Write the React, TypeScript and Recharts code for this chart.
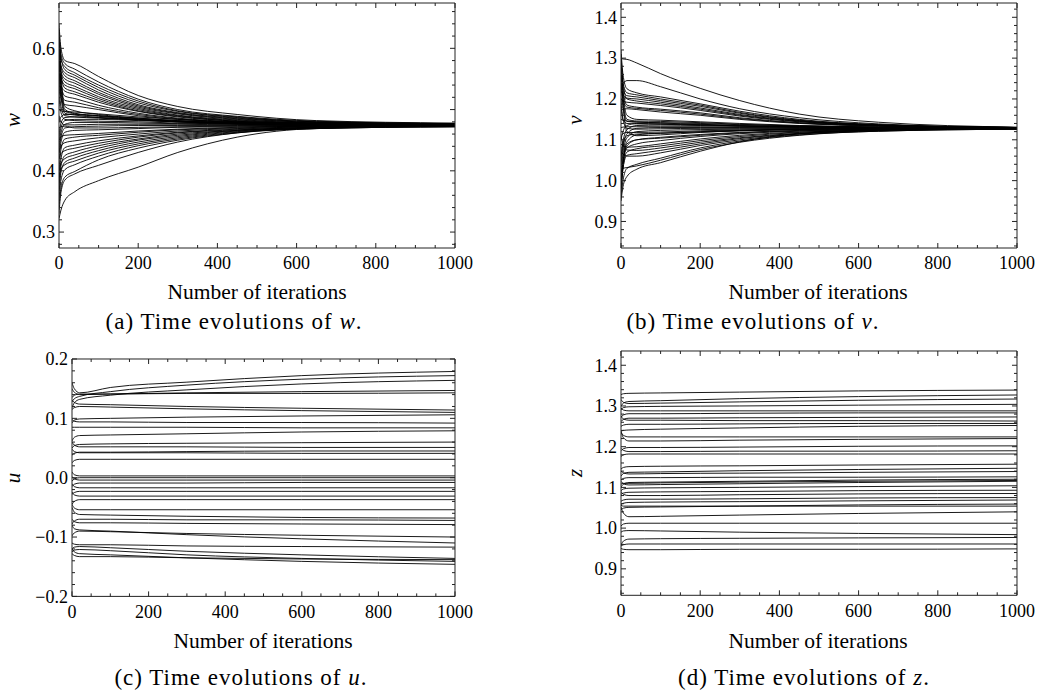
import React from 'react'
import { LineChart, Line, XAxis, YAxis } from 'recharts'

const XS_TOP = [0, 5, 15, 40, 100, 200, 300, 450, 650, 1000]
const XS_BOTTOM = [0, 6, 20, 100, 300, 600, 1000]

const W_CURVES = [
  [0.640, 0.600, 0.580, 0.575, 0.554, 0.523, 0.505, 0.492, 0.482, 0.478],
  [0.620, 0.590, 0.575, 0.566, 0.545, 0.517, 0.500, 0.489, 0.481, 0.477],
  [0.600, 0.582, 0.570, 0.560, 0.540, 0.514, 0.498, 0.488, 0.480, 0.477],
  [0.630, 0.585, 0.565, 0.556, 0.536, 0.511, 0.497, 0.487, 0.480, 0.477],
  [0.590, 0.572, 0.560, 0.552, 0.532, 0.508, 0.495, 0.486, 0.479, 0.476],
  [0.610, 0.570, 0.555, 0.547, 0.528, 0.506, 0.494, 0.485, 0.479, 0.476],
  [0.580, 0.562, 0.550, 0.543, 0.525, 0.504, 0.493, 0.484, 0.478, 0.476],
  [0.600, 0.560, 0.545, 0.538, 0.521, 0.502, 0.491, 0.483, 0.478, 0.476],
  [0.570, 0.552, 0.540, 0.534, 0.518, 0.500, 0.490, 0.482, 0.478, 0.476],
  [0.620, 0.555, 0.535, 0.529, 0.515, 0.498, 0.489, 0.481, 0.477, 0.476],
  [0.560, 0.540, 0.530, 0.525, 0.512, 0.497, 0.488, 0.481, 0.477, 0.476],
  [0.600, 0.540, 0.522, 0.518, 0.507, 0.494, 0.486, 0.480, 0.477, 0.476],
  [0.580, 0.530, 0.515, 0.512, 0.503, 0.492, 0.485, 0.479, 0.477, 0.475],
  [0.550, 0.520, 0.508, 0.506, 0.500, 0.490, 0.484, 0.479, 0.476, 0.475],
  [0.630, 0.560, 0.505, 0.498, 0.492, 0.486, 0.482, 0.478, 0.476, 0.475],
  [0.610, 0.545, 0.500, 0.494, 0.490, 0.485, 0.481, 0.478, 0.476, 0.475],
  [0.590, 0.530, 0.497, 0.493, 0.489, 0.484, 0.480, 0.477, 0.476, 0.475],
  [0.570, 0.520, 0.494, 0.491, 0.487, 0.483, 0.480, 0.477, 0.476, 0.475],
  [0.500, 0.498, 0.497, 0.496, 0.493, 0.488, 0.484, 0.480, 0.477, 0.475],
  [0.480, 0.488, 0.492, 0.492, 0.490, 0.486, 0.482, 0.479, 0.477, 0.475],
  [0.460, 0.478, 0.487, 0.488, 0.487, 0.484, 0.481, 0.478, 0.476, 0.475],
  [0.450, 0.470, 0.482, 0.484, 0.484, 0.482, 0.480, 0.477, 0.476, 0.475],
  [0.520, 0.495, 0.484, 0.482, 0.481, 0.480, 0.478, 0.476, 0.475, 0.475],
  [0.440, 0.462, 0.476, 0.479, 0.479, 0.478, 0.477, 0.476, 0.475, 0.475],
  [0.490, 0.480, 0.475, 0.475, 0.476, 0.476, 0.476, 0.475, 0.475, 0.474],
  [0.430, 0.455, 0.470, 0.472, 0.473, 0.474, 0.474, 0.474, 0.474, 0.474],
  [0.470, 0.472, 0.473, 0.470, 0.470, 0.471, 0.472, 0.473, 0.474, 0.474],
  [0.420, 0.447, 0.463, 0.466, 0.467, 0.469, 0.471, 0.472, 0.473, 0.474],
  [0.540, 0.505, 0.490, 0.488, 0.486, 0.483, 0.480, 0.477, 0.476, 0.475],
  [0.450, 0.455, 0.458, 0.459, 0.461, 0.465, 0.468, 0.471, 0.473, 0.474],
  [0.400, 0.435, 0.452, 0.455, 0.458, 0.463, 0.467, 0.470, 0.473, 0.474],
  [0.430, 0.440, 0.446, 0.449, 0.454, 0.460, 0.465, 0.469, 0.472, 0.474],
  [0.380, 0.420, 0.438, 0.442, 0.449, 0.457, 0.463, 0.468, 0.472, 0.473],
  [0.420, 0.428, 0.433, 0.437, 0.445, 0.455, 0.462, 0.467, 0.471, 0.473],
  [0.370, 0.408, 0.425, 0.431, 0.441, 0.452, 0.460, 0.466, 0.471, 0.473],
  [0.400, 0.412, 0.420, 0.426, 0.437, 0.450, 0.458, 0.466, 0.471, 0.473],
  [0.360, 0.398, 0.414, 0.421, 0.433, 0.447, 0.456, 0.465, 0.470, 0.473],
  [0.390, 0.403, 0.410, 0.416, 0.429, 0.444, 0.454, 0.464, 0.470, 0.473],
  [0.350, 0.385, 0.402, 0.410, 0.424, 0.441, 0.452, 0.463, 0.469, 0.472],
  [0.340, 0.372, 0.390, 0.399, 0.418, 0.437, 0.450, 0.462, 0.469, 0.472],
  [0.330, 0.365, 0.385, 0.395, 0.409, 0.430, 0.447, 0.462, 0.470, 0.473],
  [0.322, 0.336, 0.352, 0.366, 0.384, 0.406, 0.430, 0.455, 0.469, 0.472],
]

const V_CURVES = [
  [1.300, 1.298, 1.297, 1.288, 1.262, 1.226, 1.196, 1.163, 1.143, 1.131],
  [1.270, 1.240, 1.245, 1.245, 1.230, 1.200, 1.176, 1.154, 1.139, 1.130],
  [1.320, 1.260, 1.225, 1.215, 1.205, 1.188, 1.170, 1.150, 1.137, 1.130],
  [1.290, 1.240, 1.215, 1.210, 1.200, 1.185, 1.167, 1.148, 1.137, 1.130],
  [1.260, 1.225, 1.208, 1.205, 1.196, 1.182, 1.165, 1.147, 1.136, 1.130],
  [1.230, 1.210, 1.202, 1.200, 1.192, 1.178, 1.162, 1.146, 1.136, 1.130],
  [1.310, 1.240, 1.200, 1.195, 1.188, 1.175, 1.160, 1.145, 1.135, 1.130],
  [1.200, 1.195, 1.192, 1.190, 1.184, 1.172, 1.158, 1.144, 1.135, 1.130],
  [1.280, 1.220, 1.185, 1.180, 1.175, 1.166, 1.154, 1.142, 1.134, 1.129],
  [1.250, 1.200, 1.180, 1.177, 1.172, 1.163, 1.152, 1.141, 1.134, 1.129],
  [1.170, 1.175, 1.176, 1.174, 1.168, 1.160, 1.150, 1.140, 1.133, 1.129],
  [1.300, 1.220, 1.160, 1.150, 1.148, 1.144, 1.140, 1.135, 1.131, 1.129],
  [1.280, 1.200, 1.150, 1.146, 1.145, 1.142, 1.138, 1.134, 1.131, 1.129],
  [1.240, 1.180, 1.145, 1.143, 1.142, 1.140, 1.137, 1.134, 1.131, 1.129],
  [1.150, 1.148, 1.146, 1.144, 1.141, 1.138, 1.135, 1.132, 1.130, 1.129],
  [1.100, 1.120, 1.135, 1.140, 1.139, 1.137, 1.134, 1.132, 1.130, 1.129],
  [1.060, 1.095, 1.125, 1.135, 1.136, 1.135, 1.133, 1.131, 1.130, 1.129],
  [1.130, 1.131, 1.132, 1.132, 1.132, 1.132, 1.131, 1.130, 1.129, 1.128],
  [1.040, 1.080, 1.115, 1.128, 1.130, 1.130, 1.130, 1.129, 1.129, 1.128],
  [1.200, 1.150, 1.128, 1.126, 1.127, 1.128, 1.128, 1.128, 1.128, 1.128],
  [1.020, 1.065, 1.105, 1.120, 1.123, 1.125, 1.126, 1.127, 1.128, 1.128],
  [1.110, 1.115, 1.118, 1.118, 1.119, 1.122, 1.124, 1.126, 1.127, 1.128],
  [1.000, 1.050, 1.095, 1.112, 1.116, 1.119, 1.122, 1.125, 1.127, 1.128],
  [1.180, 1.150, 1.140, 1.139, 1.138, 1.136, 1.134, 1.132, 1.130, 1.129],
  [1.050, 1.090, 1.110, 1.114, 1.116, 1.120, 1.123, 1.126, 1.127, 1.128],
  [1.260, 1.190, 1.120, 1.110, 1.112, 1.118, 1.122, 1.125, 1.127, 1.128],
  [1.000, 1.045, 1.085, 1.100, 1.106, 1.113, 1.118, 1.123, 1.126, 1.128],
  [0.980, 1.040, 1.090, 1.100, 1.104, 1.111, 1.117, 1.122, 1.126, 1.128],
  [0.980, 1.040, 1.080, 1.090, 1.098, 1.108, 1.115, 1.121, 1.125, 1.127],
  [1.090, 1.085, 1.082, 1.083, 1.090, 1.102, 1.111, 1.119, 1.124, 1.127],
  [0.970, 1.030, 1.070, 1.078, 1.085, 1.098, 1.108, 1.118, 1.124, 1.127],
  [1.110, 1.090, 1.075, 1.074, 1.080, 1.094, 1.105, 1.116, 1.123, 1.127],
  [0.990, 1.030, 1.062, 1.066, 1.074, 1.090, 1.103, 1.115, 1.123, 1.127],
  [1.070, 1.065, 1.060, 1.060, 1.068, 1.086, 1.100, 1.114, 1.122, 1.127],
  [0.960, 1.000, 1.030, 1.040, 1.055, 1.080, 1.097, 1.112, 1.121, 1.126],
  [1.020, 1.030, 1.032, 1.036, 1.050, 1.076, 1.094, 1.111, 1.121, 1.126],
  [0.950, 0.985, 1.010, 1.028, 1.044, 1.072, 1.095, 1.115, 1.124, 1.127],
]

const U_CURVES = [
  [0.160, 0.150, 0.143, 0.152, 0.161, 0.172, 0.179],
  [0.128, 0.133, 0.137, 0.145, 0.156, 0.166, 0.172],
  [0.118, 0.126, 0.132, 0.139, 0.148, 0.158, 0.164],
  [0.150, 0.144, 0.140, 0.141, 0.143, 0.145, 0.147],
  [0.135, 0.139, 0.141, 0.141, 0.142, 0.142, 0.143],
  [0.130, 0.127, 0.124, 0.123, 0.120, 0.117, 0.114],
  [0.115, 0.118, 0.120, 0.119, 0.116, 0.113, 0.110],
  [0.092, 0.097, 0.099, 0.100, 0.102, 0.104, 0.106],
  [0.098, 0.095, 0.094, 0.094, 0.093, 0.093, 0.092],
  [0.085, 0.085, 0.085, 0.085, 0.085, 0.084, 0.084],
  [0.062, 0.068, 0.071, 0.072, 0.074, 0.077, 0.079],
  [0.050, 0.054, 0.056, 0.057, 0.058, 0.059, 0.060],
  [0.060, 0.055, 0.052, 0.052, 0.052, 0.051, 0.051],
  [0.038, 0.041, 0.043, 0.043, 0.044, 0.045, 0.045],
  [0.048, 0.044, 0.042, 0.042, 0.042, 0.041, 0.041],
  [0.025, 0.029, 0.031, 0.031, 0.031, 0.031, 0.031],
  [0.010, 0.005, 0.003, 0.003, 0.003, 0.003, 0.003],
  [-0.006, -0.002, 0.000, 0.000, 0.000, 0.000, 0.000],
  [0.002, -0.002, -0.004, -0.004, -0.004, -0.004, -0.004],
  [-0.015, -0.011, -0.009, -0.009, -0.009, -0.008, -0.008],
  [-0.010, -0.015, -0.017, -0.017, -0.017, -0.017, -0.017],
  [-0.028, -0.025, -0.023, -0.023, -0.023, -0.023, -0.023],
  [-0.024, -0.029, -0.031, -0.031, -0.031, -0.031, -0.031],
  [-0.045, -0.040, -0.037, -0.037, -0.037, -0.037, -0.037],
  [-0.045, -0.051, -0.054, -0.054, -0.054, -0.054, -0.054],
  [-0.050, -0.058, -0.062, -0.063, -0.065, -0.067, -0.068],
  [-0.078, -0.073, -0.070, -0.070, -0.071, -0.071, -0.072],
  [-0.070, -0.074, -0.076, -0.076, -0.077, -0.078, -0.079],
  [-0.080, -0.086, -0.088, -0.090, -0.096, -0.103, -0.110],
  [-0.098, -0.093, -0.090, -0.091, -0.094, -0.097, -0.100],
  [-0.110, -0.112, -0.113, -0.113, -0.115, -0.116, -0.117],
  [-0.120, -0.117, -0.116, -0.118, -0.124, -0.130, -0.136],
  [-0.125, -0.122, -0.121, -0.123, -0.130, -0.136, -0.141],
  [-0.120, -0.125, -0.128, -0.130, -0.135, -0.141, -0.146],
  [-0.128, -0.131, -0.133, -0.133, -0.135, -0.137, -0.138],
]

const Z_CURVES = [
  [1.328, 1.330, 1.331, 1.332, 1.334, 1.337, 1.339],
  [1.300, 1.307, 1.311, 1.313, 1.318, 1.323, 1.327],
  [1.316, 1.309, 1.306, 1.307, 1.310, 1.314, 1.317],
  [1.290, 1.296, 1.298, 1.299, 1.300, 1.302, 1.304],
  [1.295, 1.290, 1.288, 1.288, 1.288, 1.288, 1.288],
  [1.272, 1.278, 1.281, 1.281, 1.282, 1.283, 1.283],
  [1.262, 1.267, 1.270, 1.270, 1.271, 1.272, 1.273],
  [1.275, 1.268, 1.265, 1.265, 1.264, 1.264, 1.263],
  [1.250, 1.253, 1.255, 1.255, 1.256, 1.257, 1.257],
  [1.238, 1.240, 1.241, 1.243, 1.246, 1.250, 1.252],
  [1.235, 1.228, 1.224, 1.224, 1.224, 1.224, 1.224],
  [1.238, 1.222, 1.214, 1.214, 1.216, 1.218, 1.220],
  [1.190, 1.195, 1.198, 1.198, 1.199, 1.201, 1.202],
  [1.196, 1.191, 1.188, 1.188, 1.189, 1.189, 1.190],
  [1.176, 1.180, 1.182, 1.182, 1.182, 1.182, 1.182],
  [1.145, 1.149, 1.151, 1.152, 1.153, 1.155, 1.157],
  [1.128, 1.134, 1.137, 1.138, 1.141, 1.144, 1.147],
  [1.140, 1.136, 1.133, 1.134, 1.135, 1.137, 1.139],
  [1.118, 1.122, 1.124, 1.124, 1.125, 1.125, 1.126],
  [1.100, 1.108, 1.112, 1.113, 1.115, 1.118, 1.120],
  [1.115, 1.109, 1.106, 1.107, 1.109, 1.112, 1.115],
  [1.108, 1.110, 1.110, 1.111, 1.113, 1.115, 1.117],
  [1.092, 1.096, 1.098, 1.099, 1.100, 1.102, 1.104],
  [1.083, 1.086, 1.088, 1.089, 1.090, 1.092, 1.093],
  [1.090, 1.083, 1.080, 1.080, 1.082, 1.084, 1.085],
  [1.066, 1.069, 1.071, 1.071, 1.072, 1.074, 1.075],
  [1.058, 1.061, 1.063, 1.064, 1.065, 1.067, 1.069],
  [1.045, 1.049, 1.051, 1.052, 1.054, 1.057, 1.059],
  [1.056, 1.054, 1.054, 1.054, 1.054, 1.054, 1.054],
  [1.052, 1.037, 1.028, 1.029, 1.032, 1.036, 1.040],
  [1.005, 1.010, 1.012, 1.012, 1.012, 1.012, 1.012],
  [0.990, 0.993, 0.994, 0.993, 0.990, 0.987, 0.984],
  [0.958, 0.968, 0.973, 0.974, 0.975, 0.976, 0.977],
  [0.956, 0.959, 0.961, 0.961, 0.961, 0.961, 0.961],
  [0.950, 0.948, 0.947, 0.947, 0.948, 0.948, 0.949],
]

// ticks: every value gets a tick mark, the majors also get a label
const X_TICKS = [0, 50, 100, 150, 200, 250, 300, 350, 400, 450, 500, 550, 600, 650, 700, 750, 800, 850, 900, 950, 1000]
const X_MAJOR = [0, 200, 400, 600, 800, 1000]
const W_TICKS = [0.28, 0.3, 0.32, 0.34, 0.36, 0.38, 0.4, 0.42, 0.44, 0.46, 0.48, 0.5, 0.52, 0.54, 0.56, 0.58, 0.6, 0.62, 0.64, 0.66]
const W_MAJOR = [0.3, 0.4, 0.5, 0.6]
const V_TICKS = [0.84, 0.86, 0.88, 0.9, 0.92, 0.94, 0.96, 0.98, 1, 1.02, 1.04, 1.06, 1.08, 1.1, 1.12, 1.14, 1.16, 1.18, 1.2, 1.22, 1.24, 1.26, 1.28, 1.3, 1.32, 1.34, 1.36, 1.38, 1.4, 1.42]
const V_MAJOR = [0.9, 1, 1.1, 1.2, 1.3, 1.4]
const U_TICKS = [-0.2, -0.18, -0.16, -0.14, -0.12, -0.1, -0.08, -0.06, -0.04, -0.02, 0, 0.02, 0.04, 0.06, 0.08, 0.1, 0.12, 0.14, 0.16, 0.18, 0.2]
const U_MAJOR = [-0.2, -0.1, 0, 0.1, 0.2]

const FRAME = '#222'
const SERIF = '"Liberation Serif", "Times New Roman", Times, serif'
const TICK_FONT = { fontFamily: SERIF, fontSize: 18, fill: '#000' }

const isMajor = (v: number, majors: number[]) => majors.some((m) => Math.abs(m - v) < 1e-9)
const fmtY = (v: number) => v.toFixed(1).replace('-', '\u2212')

function buildRows(xs: number[], curves: number[][]) {
  return xs.map((x, i) => {
    const row: Record<string, number> = { x }
    curves.forEach((c, j) => { row['s' + j] = c[i] })
    return row
  })
}

function Panel(props: any) {
  const { xs, curves, yDomain, yTicks, yMajor, box, yLabel, yLabelAt, xLabelAt, caption, captionAt } = props
  const [L, T, R, B] = box
  const axisW = 50
  const padTop = 12
  const padRight = 24
  const rows = buildRows(xs, curves)
  const width = axisW + (R - L) + 1 + padRight
  const height = padTop + 1 + (B - T) + 30

  const bottomTick = (p: any) => {
    const major = isMajor(p.payload.value, X_MAJOR)
    return (
      <g>
        <line x1={p.x} x2={p.x} y1={p.y} y2={p.y - (major ? 5 : 3)} stroke={FRAME} />
        {major && <text x={p.x} y={p.y + 15} dy="0.35em" textAnchor="middle" style={TICK_FONT}>{p.payload.value}</text>}
      </g>
    )
  }
  const topTick = (p: any) => {
    const major = isMajor(p.payload.value, X_MAJOR)
    return <line x1={p.x} x2={p.x} y1={p.y} y2={p.y + (major ? 5 : 3)} stroke={FRAME} />
  }
  const leftTick = (p: any) => {
    const major = isMajor(p.payload.value, yMajor)
    return (
      <g>
        <line x1={p.x} x2={p.x + (major ? 5 : 3)} y1={p.y} y2={p.y} stroke={FRAME} />
        {major && <text x={p.x - 4} y={p.y} dy="0.35em" textAnchor="end" style={TICK_FONT}>{fmtY(p.payload.value)}</text>}
      </g>
    )
  }
  const rightTick = (p: any) => {
    const major = isMajor(p.payload.value, yMajor)
    return <line x1={p.x} x2={p.x - (major ? 5 : 3)} y1={p.y} y2={p.y} stroke={FRAME} />
  }

  const labelStyle: React.CSSProperties = {
    position: 'absolute', whiteSpace: 'nowrap', transform: 'translate(-50%, -50%)',
    fontFamily: SERIF, color: '#000', lineHeight: 1,
  }

  return (
    <>
      <div style={{ position: 'absolute', left: L - axisW, top: T - 1 - padTop }}>
        <LineChart width={width} height={height} data={rows} margin={{ top: padTop, right: padRight, bottom: 0, left: 0 }}>
          <XAxis dataKey="x" type="number" domain={[0, 1000]} ticks={X_TICKS} interval={0} height={30}
            tickSize={0} tickMargin={0} tickLine={false} tick={bottomTick} axisLine={{ stroke: FRAME }} allowDataOverflow />
          <XAxis xAxisId="top" orientation="top" dataKey="x" type="number" domain={[0, 1000]} ticks={X_TICKS} interval={0} height={1}
            tickSize={0} tickMargin={0} tickLine={false} tick={topTick} axisLine={{ stroke: FRAME }} allowDataOverflow />
          <YAxis type="number" domain={yDomain} ticks={yTicks} interval={0} width={axisW}
            tickSize={0} tickMargin={0} tickLine={false} tick={leftTick} axisLine={{ stroke: FRAME }} allowDataOverflow />
          <YAxis yAxisId="right" orientation="right" type="number" domain={yDomain} ticks={yTicks} interval={0} width={1}
            tickSize={0} tickMargin={0} tickLine={false} tick={rightTick} axisLine={{ stroke: FRAME }} allowDataOverflow />
          {curves.map((_: number[], j: number) => (
            <Line key={j} dataKey={'s' + j} type="monotone" stroke="#000" strokeWidth={0.9} dot={false} isAnimationActive={false} />
          ))}
        </LineChart>
      </div>
      <div style={{ ...labelStyle, left: yLabelAt[0], top: yLabelAt[1], fontSize: 21, fontStyle: 'italic', transform: 'translate(-50%, -50%) rotate(-90deg)' }}>{yLabel}</div>
      <div style={{ ...labelStyle, left: xLabelAt[0], top: xLabelAt[1], fontSize: 21.5 }}>Number of iterations</div>
      <div style={{ ...labelStyle, left: captionAt[0], top: captionAt[1], fontSize: 23, letterSpacing: 1 }}>{caption}</div>
    </>
  )
}

export default function App() {
  return (
    <div style={{ position: 'fixed', left: 0, top: 0, width: 1043, height: 695, background: '#fff', overflow: 'hidden' }}>
      <Panel xs={XS_TOP} curves={W_CURVES} yDomain={[0.274, 0.674]} yTicks={W_TICKS} yMajor={W_MAJOR}
        box={[59, 3, 455, 248]} yLabel="w" yLabelAt={[13, 120]} xLabelAt={[257, 293]}
        caption={<span>(a) Time evolutions of <i>w</i>.</span>} captionAt={[234, 321]} />
      <Panel xs={XS_TOP} curves={V_CURVES} yDomain={[0.835, 1.435]} yTicks={V_TICKS} yMajor={V_MAJOR}
        box={[620.7, 3, 1016.7, 248]} yLabel="v" yLabelAt={[575, 120]} xLabelAt={[818, 293]}
        caption={<span>(b) Time evolutions of <i>v</i>.</span>} captionAt={[753, 321]} />
      <Panel xs={XS_BOTTOM} curves={U_CURVES} yDomain={[-0.2, 0.2]} yTicks={U_TICKS} yMajor={U_MAJOR}
        box={[72.3, 359.3, 455.3, 596.7]} yLabel="u" yLabelAt={[13, 478]} xLabelAt={[263, 642]}
        caption={<span>(c) Time evolutions of <i>u</i>.</span>} captionAt={[241, 677]} />
      <Panel xs={XS_BOTTOM} curves={Z_CURVES} yDomain={[0.835, 1.435]} yTicks={V_TICKS} yMajor={V_MAJOR}
        box={[620.7, 350.7, 1016.7, 595]} yLabel="z" yLabelAt={[575, 473]} xLabelAt={[818, 642]}
        caption={<span>(d) Time evolutions of <i>z</i>.</span>} captionAt={[804, 677]} />
    </div>
  )
}
